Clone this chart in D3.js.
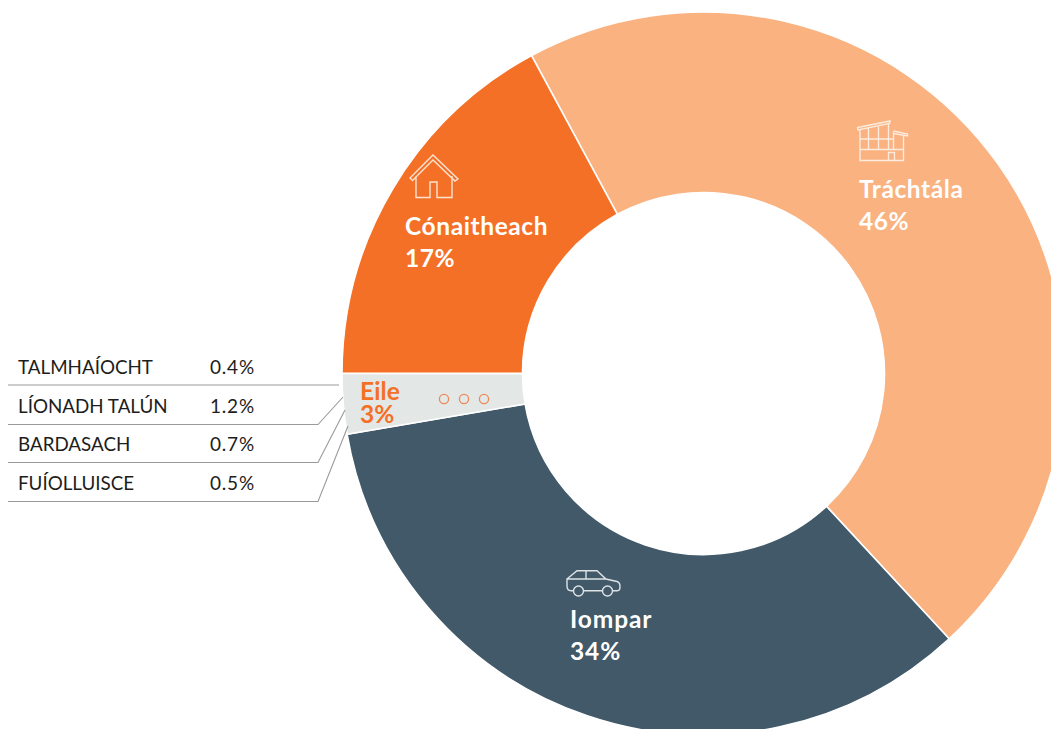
<!DOCTYPE html>
<html><head><meta charset="utf-8">
<script src="https://cdn.jsdelivr.net/npm/d3@7"></script>
<style>
html,body{margin:0;padding:0;background:#fff;overflow:hidden}
svg{display:block}
text{font-family:Lato,"Open Sans",sans-serif}
</style></head><body>
<svg id="c" width="1051" height="729"></svg>
<script>
const sectorNames = ["Tráchtála","Iompar","Eile","Cónaitheach"];
const sectorValues = [46.0,34.2,2.7,17.1];
const sectorLabels = ["46%","34%","3%","17%"];
const sectorColors = ["#F9B280","#415969","#E3E7E5","#F47026"];
const otherNames = ["TALMHAÍOCHT","LÍONADH TALÚN","BARDASACH","FUÍOLLUISCE"];
const otherValues = ["0.4%","1.2%","0.7%","0.5%"];

const svg = d3.select("#c");
const cx = 703.5, cy = 373.5, R = 361.5, r = 181;
const start = -28.4*Math.PI/180;
const pie = d3.pie().sort(null).value(d=>d).startAngle(start).endAngle(start+2*Math.PI);
const arc = d3.arc().innerRadius(r).outerRadius(R);
const g = svg.append("g").attr("transform",`translate(${cx},${cy})`);
g.selectAll("path").data(pie(sectorValues)).join("path")
  .attr("d",arc).attr("fill",(d,i)=>sectorColors[i])
  .attr("stroke","#fff").attr("stroke-width",1.6).attr("stroke-linejoin","round");

const labelPos = [
 {x:859,y1:198,y2:230,fs:24.5,ls:0.6,fill:"#fff"},
 {x:570,y1:628,y2:660,fs:24.5,ls:0.9,fill:"#fff"},
 {x:360,y1:400,y2:423,fs:24.5,ls:0.1,fill:"#F47026"},
 {x:405,y1:235,y2:267,fs:24.5,ls:0.6,fill:"#fff"}
];
sectorNames.forEach((n,i)=>{
  const p = labelPos[i];
  const t = svg.append("text").attr("fill",p.fill).attr("font-weight",700).attr("letter-spacing",p.ls).attr("font-size",p.fs);
  t.append("tspan").attr("x",p.x).attr("y",p.y1).text(n);
  t.append("tspan").attr("x",p.x).attr("y",p.y2).text(sectorLabels[i]);
});

svg.append("g").selectAll("circle").data([444,464,484]).join("circle")
  .attr("cx",d=>d).attr("cy",399).attr("r",4.6)
  .attr("fill","none").attr("stroke","#F0895A").attr("stroke-width",1.3);

const baselines = [374,413,451,490];
const table = svg.append("g");
otherNames.forEach((n,i)=>{
  table.append("text").attr("x",18).attr("y",baselines[i]).attr("font-size",18.8).attr("fill","#1d1d1b").text(n);
  table.append("text").attr("x",210).attr("y",baselines[i]).attr("font-size",19).attr("fill","#1d1d1b").attr("letter-spacing",0.8).text(otherValues[i]);
});
const leaders = [
 [[8,385],[339,385]],
 [[8,424.5],[318,424.5],[343,397]],
 [[8,462.5],[318,462.5],[345,410]],
 [[8,501.5],[318,501.5],[348,426]]
];
svg.append("g").selectAll("path").data(leaders).join("path")
  .attr("d",d3.line()).attr("fill","none").attr("stroke","#9a9a9a").attr("stroke-width",1.1);

const icon = svg.append("g").attr("fill","none").attr("stroke","#fff").attr("stroke-width",1.4).attr("stroke-linejoin","miter");
icon.append("path").attr("stroke","#FBE3D2").attr("d",
 "M410 178 L433 155 L458 179 L455 181 L433 160 L412.5 180.5 Z M416 176 V197.5 H430 V182 H437 V197.5 H452 V176");
icon.append("path").attr("stroke","#FDEBDD").attr("d",
 "M857.5 127.5 L890 121 L889.5 123.5 L858 130 Z M860 129.5 V160.5 H903.5 V135.5 M860 139 H893.5 M860 149.5 H903.5 M868.5 128 V149.5 M878.5 126 V149.5 M888.5 124 V149.5 M893.5 131.5 V149.5 M893.5 131 L907.5 134 L907.5 136 L893.5 133.5 M888.5 160.5 V152.5 H894.5 V160.5");
icon.append("path").attr("stroke","#DDE3E6").attr("d",
 "M567 579 L577 570.7 H597 L606 579 L617 581.5 Q620 582.5 620 586.5 Q620 590.7 617.5 590.7 H612.5 M602.5 590.7 H583.5 M573.5 590.7 H571 Q567 590.7 567 586 V579 H606 M586 570.7 V579");
icon.append("circle").attr("stroke","#DDE3E6").attr("cx",578.5).attr("cy",591).attr("r",5);
icon.append("circle").attr("stroke","#DDE3E6").attr("cx",607.5).attr("cy",591).attr("r",5);
</script>
</body></html>
